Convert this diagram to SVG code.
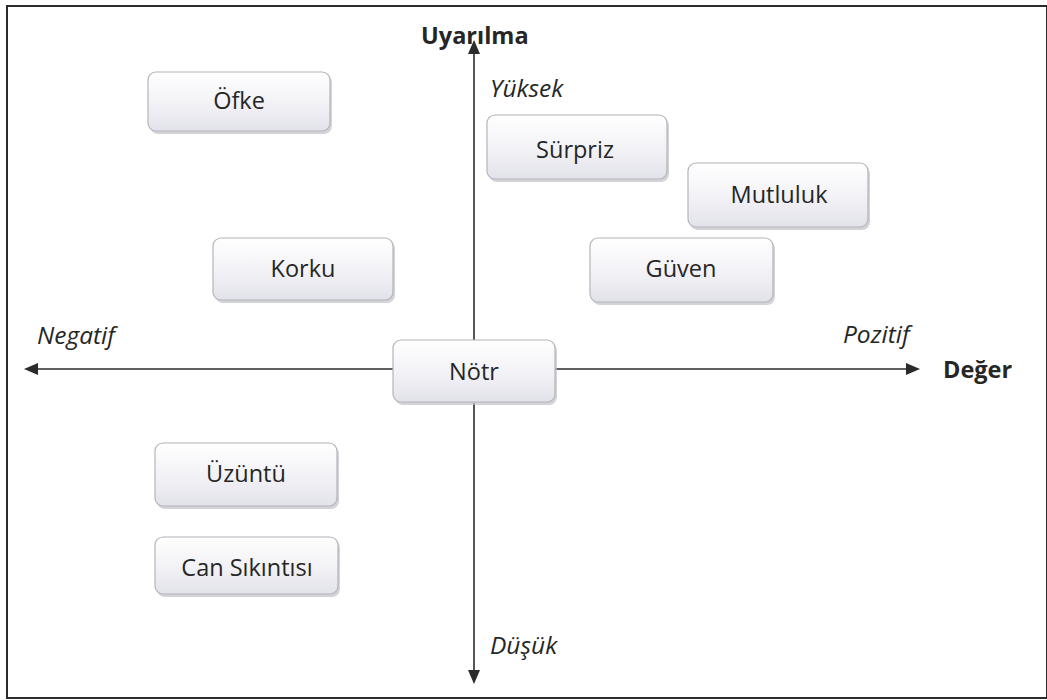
<svg xmlns="http://www.w3.org/2000/svg" width="1047" height="700" viewBox="0 0 1047 700">
<style>
.box{fill:url(#g);stroke:#b4b4bc;stroke-width:1.2}
.sh{fill:#c0c0c8;opacity:0.7}
.t{font-family:"Open Sans","Liberation Sans",sans-serif;font-size:23.5px;fill:#262626;text-anchor:middle}
.it{font-family:"Open Sans","Liberation Sans",sans-serif;font-size:24.5px;font-style:italic;fill:#262626}
.b{font-family:"Open Sans","Liberation Sans",sans-serif;font-size:23.5px;font-weight:bold;fill:#262626}
.ax{stroke:#2b2b2b;stroke-width:1.6;fill:none}
</style>
<defs>
<linearGradient id="g" x1="0" y1="0" x2="0" y2="1">
<stop offset="0" stop-color="#ffffff"/>
<stop offset="0.5" stop-color="#f3f3f7"/>
<stop offset="1" stop-color="#e2e2ea"/>
</linearGradient>
</defs>
<rect width="1047" height="700" fill="#ffffff"/>
<rect x="7" y="6" width="1040" height="692" fill="none" stroke="#2b2b2b" stroke-width="2"/>
<g id="connectors">
<line class="ax" x1="474" y1="340" x2="474" y2="50"/>
<path d="M474,40 L468,54 L480,54 z" fill="#2b2b2b"/>
<line class="ax" x1="474" y1="403" x2="474" y2="672"/>
<path d="M474,684 L468,670 L480,670 z" fill="#2b2b2b"/>
<line class="ax" x1="393" y1="369" x2="36" y2="369"/>
<path d="M24,369 L38,363 L38,375 z" fill="#2b2b2b"/>
<line class="ax" x1="555" y1="369" x2="908" y2="369"/>
<path d="M920,369 L906,363 L906,375 z" fill="#2b2b2b"/>
</g>
<g id="labels">
<text class="b" x="421" y="44">Uyarılma</text>
<text class="it" x="490" y="97">Yüksek</text>
<text class="it" x="490" y="654">Düşük</text>
<text class="it" x="37" y="344">Negatif</text>
<text class="it" x="843" y="343">Pozitif</text>
<text class="b" x="943" y="378">Değer</text>
</g>
<g id="ofke"><rect class="sh" x="150" y="75" width="182" height="59" rx="8"/><rect class="box" x="148" y="72" width="182" height="59" rx="8"/><text class="t" x="239" y="109">Öfke</text></g>
<g id="surpriz"><rect class="sh" x="489" y="118" width="180" height="64" rx="8"/><rect class="box" x="487" y="115" width="180" height="64" rx="8"/><text class="t" x="575" y="158">Sürpriz</text></g>
<g id="mutluluk"><rect class="sh" x="690" y="166" width="180" height="64" rx="8"/><rect class="box" x="688" y="163" width="180" height="64" rx="8"/><text class="t" x="779" y="203">Mutluluk</text></g>
<g id="korku"><rect class="sh" x="215" y="241" width="180" height="62" rx="8"/><rect class="box" x="213" y="238" width="180" height="62" rx="8"/><text class="t" x="303" y="277">Korku</text></g>
<g id="guven"><rect class="sh" x="592" y="241" width="183" height="64" rx="8"/><rect class="box" x="590" y="238" width="183" height="64" rx="8"/><text class="t" x="681" y="277">Güven</text></g>
<g id="notr"><rect class="sh" x="395" y="343" width="162" height="62" rx="8"/><rect class="box" x="393" y="340" width="162" height="62" rx="8"/><text class="t" x="474" y="380">Nötr</text></g>
<g id="uzuntu"><rect class="sh" x="157" y="446" width="182" height="63" rx="8"/><rect class="box" x="155" y="443" width="182" height="63" rx="8"/><text class="t" x="246" y="482">Üzüntü</text></g>
<g id="cansikintisi"><rect class="sh" x="157" y="540" width="183" height="57" rx="8"/><rect class="box" x="155" y="537" width="183" height="57" rx="8"/><text class="t" x="247" y="576">Can Sıkıntısı</text></g>
</svg>
